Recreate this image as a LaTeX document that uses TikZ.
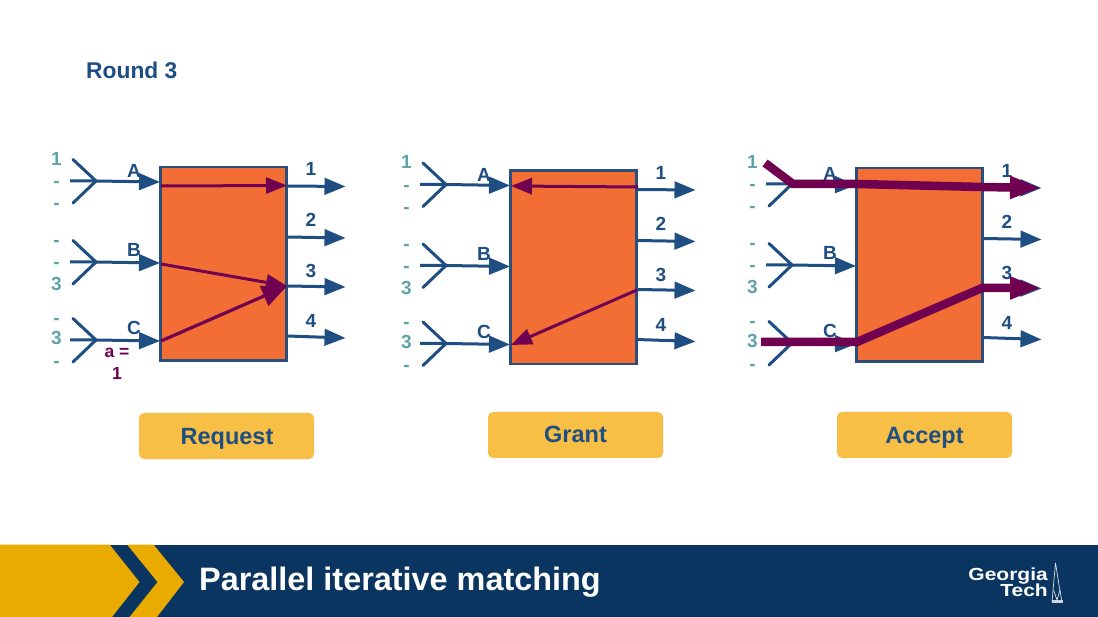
\documentclass[tikz,border=0pt]{standalone}
\usepackage{fontspec}
\setmainfont{Liberation Sans}
\usetikzlibrary{arrows.meta}
\definecolor{gtblue}{HTML}{1F4E82}
\definecolor{boxline}{HTML}{2A4F7C}
\definecolor{orangefill}{HTML}{F26E35}
\definecolor{teallabel}{HTML}{5FA3A8}
\definecolor{purp}{HTML}{700050}
\definecolor{btn}{HTML}{F7BF45}
\definecolor{navy}{HTML}{0A3560}
\definecolor{gold}{HTML}{EAAB00}
\tikzset{
  x=1pt,y=-1pt,
  switchbox/.style={draw=boxline,fill=orangefill,line width=2.8pt,outer sep=0pt,minimum width=126pt,minimum height=193.5pt,inner sep=0pt,anchor=north west},
  bluewire/.style={draw=gtblue,line width=3pt,line cap=round},
  bluearrow/.style={draw=gtblue,line width=3pt,-{Triangle[length=21pt,width=16.5pt,fill=gtblue]}},
  thinpurple/.style={draw=purp,line width=3pt,-{Triangle[length=21pt,width=16pt,fill=purp]}},
  bigpurple/.style={draw=purp,line width=3.2pt,-{Triangle[length=25pt,width=21pt,fill=purp]}},
  thickpurple/.style={draw=purp,line width=8.5pt,line join=miter,-{Triangle[length=31pt,width=21pt,fill=purp]}},
  lab/.style={font=\fontsize{19}{19}\selectfont\bfseries,text=gtblue,anchor=base,inner sep=0pt},
  queue/.style={font=\fontsize{19}{19}\selectfont\bfseries,text=teallabel,anchor=base,inner sep=0pt},
  note/.style={font=\fontsize{17.5}{17.5}\selectfont\bfseries,text=purp,anchor=base,inner sep=0pt},
  button/.style={fill=btn,rounded corners=5pt,outer sep=0pt,minimum width=175pt,minimum height=46pt,inner sep=0pt,anchor=north west},
  btntext/.style={font=\fontsize{23.5}{23.5}\selectfont\bfseries,text=gtblue,anchor=base,inner sep=0pt},
  logotext/.style={font=\fontsize{17.5}{17.5}\selectfont\bfseries,text=white,anchor=base east,inner sep=0pt,xscale=1.2},
}
% #1 prefix, #2 dx, #3 dy of inputs, #4 dy of box, #5 dy of outputs
\newcommand{\panelset}[5]{%
  \node[switchbox] (#1box) at (160.5+#2,167+#4) {};
  % inputs
  \foreach \nm/\yy/\ye in {A/181/182,B/262/263,C/340/341}{%
    \coordinate (#1\nm tip) at (96+#2,\yy+#3);
    \coordinate (#1\nm up) at (73+#2,\yy-21.5+#3);
    \coordinate (#1\nm dn) at (73+#2,\yy+22+#3);
    \coordinate (#1\nm st) at (70+#2,\yy+#3);
    \coordinate (#1\nm in) at (160+#2,\ye+#3);
    \draw[bluewire] (#1\nm up) -- (#1\nm tip) -- (#1\nm dn);
    \draw[bluearrow] (#1\nm st) -- (#1\nm tip) -- (#1\nm in);
  }
  % outputs
  \foreach \nm/\ya/\yb in {1/186/186.5,2/237/238,3/286/287,4/336/338}{%
    \coordinate (#1o\nm s) at (287+#2,\ya+#5);
    \coordinate (#1o\nm e) at (345.5+#2,\yb+#5);
    \draw[bluearrow] (#1o\nm s) -- (#1o\nm e);
  }
  % port labels
  \node[lab] (#1lA) at (134+#2,178+#3) {A};
  \node[lab] (#1lB) at (134+#2,257+#3) {B};
  \node[lab] (#1lC) at (134+#2,335+#3) {C};
  \node[lab] (#1l1) at (311+#2,176+#5) {1};
  \node[lab] (#1l2) at (311+#2,227+#5) {2};
  \node[lab] (#1l3) at (311+#2,278+#5) {3};
  \node[lab] (#1l4) at (311+#2,328+#5) {4};
  % queue labels
  \node[queue] (#1q1) at (56.5+#2,165.5+#3) {1};
  \node[queue] (#1q2) at (56.5+#2,188+#3) {-};
  \node[queue] (#1q3) at (56.5+#2,210+#3) {-};
  \node[queue] (#1q4) at (56.5+#2,247+#3) {-};
  \node[queue] (#1q5) at (56.5+#2,269+#3) {-};
  \node[queue] (#1q6) at (56.5+#2,291+#3) {3};
  \node[queue] (#1q7) at (56.5+#2,325+#3) {-};
  \node[queue] (#1q8) at (56.5+#2,345+#3) {3};
  \node[queue] (#1q9) at (56.5+#2,368+#3) {-};
}
\begin{document}
\begin{tikzpicture}
\path[use as bounding box,fill=white] (0,0) rectangle (1098,617);
\node[font=\fontsize{22.8}{22.8}\selectfont\bfseries,text=gtblue,anchor=base west,inner sep=0pt] (title) at (86,79) {Round 3};

\panelset{p}{0}{0}{0}{0}
\panelset{q}{350}{3.5}{3.5}{3.5}
\panelset{r}{696}{3}{1}{1.5}

% Request
\coordinate (pAa) at (161,186);
\coordinate (pAb) at (287,185.5);
\coordinate (pBa) at (161,264);
\coordinate (pBb) at (287,286);
\coordinate (pCa) at (161,341);
\draw[thinpurple] (pAa) -- (pAb);
\draw[thinpurple] (pBa) -- (pBb);
\draw[bigpurple] (pCa) -- (pBb);
\node[note] (anote) at (117,358) {a =};
\node[note] (anum) at (117,380) {1};

% Grant
\coordinate (qAa) at (638,187);
\coordinate (qAb) at (511,186);
\coordinate (qCa) at (637,290);
\coordinate (qCb) at (511,345);
\draw[thinpurple] (qAa) -- (qAb);
\draw[thinpurple] (qCa) -- (qCb);

% Accept
\coordinate (rS1) at (765,163);
\coordinate (rK1) at (793,184);
\coordinate (rK2) at (857,184);
\coordinate (rK3) at (982,187);
\coordinate (rE1) at (1041,188);
\draw[thickpurple] (rS1) -- (rK1) -- (rK2) -- (rK3) -- (rE1);
\coordinate (rS2) at (761,342);
\coordinate (rK4) at (857,342);
\coordinate (rK5) at (982,288);
\coordinate (rE2) at (1041,288);
\draw[thickpurple] (rS2) -- (rK4) -- (rK5) -- (rE2);

% Buttons
\node[button] (b1) at (139,413) {};
\node[button] (b2) at (488,412) {};
\node[button] (b3) at (837,412) {};
\node[btntext] (t1) at (227,445) {Request};
\node[btntext] (t2) at (575.5,442.5) {Grant};
\node[btntext] (t3) at (924.5,443) {Accept};

% Banner
\fill[navy] (0,544.5) rectangle (1098,617);
\fill[gold] (0,544.5) -- (109.5,544.5) -- (139.5,582) -- (112,617) -- (0,617) -- cycle;
\fill[gold] (127,544.5) -- (153.5,544.5) -- (184,582) -- (157,617) -- (129.5,617) -- (157.5,582) -- cycle;
\node[font=\fontsize{32.4}{32.4}\selectfont\bfseries,text=white,anchor=base west,inner sep=0pt] (bt) at (199,590) {Parallel iterative matching};
\node[logotext] (g1) at (1048,580.5) {Georgia};
\node[logotext] (g2) at (1048,596.5) {Tech};
\draw[white!85!navy,line width=.7pt,line join=round] (1055.5,563) -- (1053.5,585) -- (1052,602) -- (1062,602) -- (1059,585) -- cycle;
\draw[white!85!navy,line width=.7pt] (1053.5,590) -- (1057,600) -- (1060,590);
\fill[white!80!navy] (1051.5,600) rectangle (1062.5,603);
\end{tikzpicture}
\end{document}
